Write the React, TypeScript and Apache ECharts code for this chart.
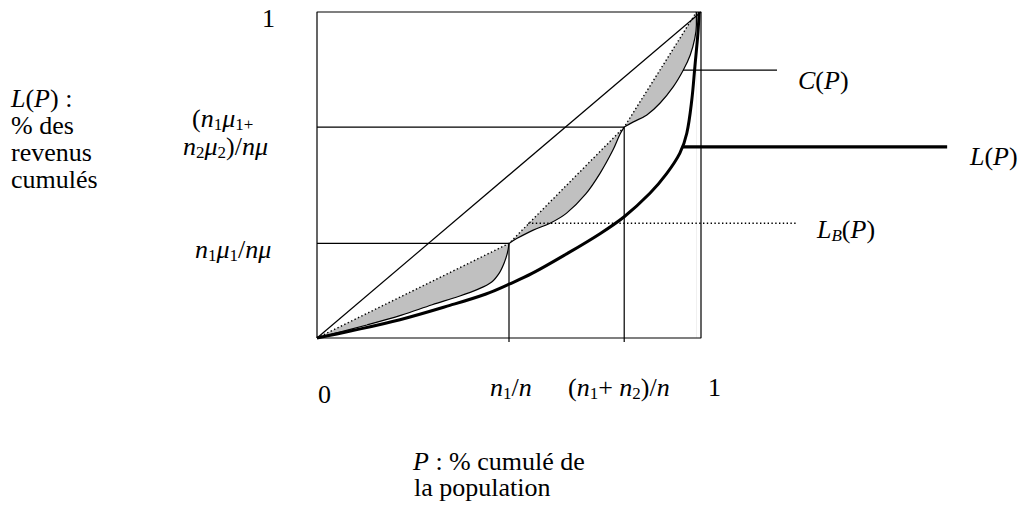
import React, { useEffect, useRef } from "react";
import * as echarts from "echarts";

// ---- data (x: cumulative population share, y: cumulative income share) ----
const chordPoints = [[0, 0], [0.5, 0.29], [0.8, 0.647], [0.988, 1]]; // L_B(P)
const cSeg1 = [[0, 0], [0.13, 0.04], [0.22, 0.07], [0.3, 0.102], [0.37, 0.128], [0.42, 0.15], [0.455, 0.172], [0.475, 0.2], [0.488, 0.232], [0.496, 0.262], [0.5, 0.29]];
const cSeg2 = [[0.5, 0.29], [0.52, 0.305], [0.563, 0.331], [0.607, 0.352], [0.65, 0.383], [0.7, 0.442], [0.737, 0.505], [0.77, 0.575], [0.789, 0.625], [0.8, 0.647]];
const cSeg3 = [[0.8, 0.647], [0.824, 0.663], [0.859, 0.684], [0.893, 0.72], [0.928, 0.771], [0.954, 0.822], [0.972, 0.868], [0.984, 0.92], [0.988, 0.96], [0.988, 1]];
const lorenz = [[0, 0], [0.09, 0.022], [0.216, 0.056], [0.346, 0.1], [0.44, 0.135], [0.5, 0.165], [0.56, 0.198], [0.65, 0.258], [0.737, 0.32], [0.8, 0.372], [0.867, 0.444], [0.911, 0.505], [0.945, 0.567], [0.963, 0.628], [0.976, 0.73], [0.984, 0.832], [0.992, 0.935], [0.995, 1]];
const diagonal = [[0, 0], [1, 1]];
const refLine1 = [[0, 0.29], [0.5, 0.29], [0.5, -0.012]];
const refLine2 = [[0, 0.647], [0.8, 0.647], [0.8, -0.012]];
const frame = [[0, 0], [1, 0], [1, 1], [0, 1], [0, 0]];
const leaderC = [[0.953, 0.822], [1.198, 0.822]];
const leaderL = [[0.952, 0.586], [1.641, 0.586]];
const leaderLB = [[0.55, 0.352], [1.25, 0.352]];

// ---- labels (rich text: r regular, i italic, s subscript, si italic subscript) ----
const yTickLabels = [
  "{r|1}",
  "{r|(}{i|n}{s|1}{i|μ}{s|1+}",
  "{i|n}{s|2}{i|μ}{s|2}{r|)/}{i|nμ}",
  "{i|n}{s|1}{i|μ}{s|1}{r|/}{i|nμ}",
];
const xTickLabels = ["{r|0}", "{i|n}{s|1}{r|/}{i|n}", "{r|(}{i|n}{s|1}{r|+ }{i|n}{s|2}{r|)/}{i|n}", "{r|1}"];
const yTitle = ["{i|L}{r|(}{i|P}{r|) :}", "{r|% des}", "{r|revenus}", "{r|cumulés}"];
const xTitle = ["{i|P}{r| : % cumulé de}", "{r|la population}"];
const curveLabels = ["{i|C}{r|(}{i|P}{r|)}", "{i|L}{r|(}{i|P}{r|)}", "{i|L}{si|B}{r|(}{i|P}{r|)}"];

const FONT = "'Liberation Serif', 'Times New Roman', 'DejaVu Serif', serif";
const RICH = {
  r: { fontSize: 26, fontFamily: FONT, lineHeight: 30, fill: "#000", color: "#000" },
  i: { fontStyle: "italic", fontSize: 26, fontFamily: FONT, lineHeight: 30, fill: "#000", color: "#000" },
  s: { fontSize: 17, fontFamily: FONT, lineHeight: 17, verticalAlign: "bottom", fill: "#000", color: "#000" },
  si: { fontStyle: "italic", fontSize: 17, fontFamily: FONT, lineHeight: 17, verticalAlign: "bottom", fill: "#000", color: "#000" },
};

function txt(x: number, baseline: number, text: string) {
  return {
    type: "text",
    x,
    y: baseline - 24,
    z: 100,
    style: {
      text,
      fontSize: 26,
      fontFamily: FONT,
      lineHeight: 30,
      fill: "#000",
      align: "left",
      verticalAlign: "top",
      rich: RICH,
    },
  };
}

function lineSeries(data: number[][], width: number, dash?: number[]) {
  return {
    type: "line",
    data,
    symbol: "none",
    showSymbol: false,
    clip: false,
    silent: true,
    lineStyle: dash ? { color: "#000", width, type: dash } : { color: "#000", width },
    z: 3,
  };
}

export default function App() {
  const ref = useRef<HTMLDivElement>(null);
  useEffect(() => {
    if (!ref.current) return;
    const chart = echarts.init(ref.current, null, { renderer: "svg" });
    const graphics: any[] = [
      txt(262, 27, yTickLabels[0]),
      txt(192, 127, yTickLabels[1]),
      txt(183, 155, yTickLabels[2]),
      txt(195, 258, yTickLabels[3]),
      txt(318, 403, xTickLabels[0]),
      txt(490, 396, xTickLabels[1]),
      txt(568, 396, xTickLabels[2]),
      txt(708, 396, xTickLabels[3]),
      txt(11, 107, yTitle[0]),
      txt(11, 134, yTitle[1]),
      txt(11, 161, yTitle[2]),
      txt(11, 188, yTitle[3]),
      txt(413, 470, xTitle[0]),
      txt(414, 496, xTitle[1]),
      txt(798, 89, curveLabels[0]),
      txt(970, 165, curveLabels[1]),
      txt(817, 238, curveLabels[2]),
    ];
    const white = { color: "#fff", opacity: 1, origin: 0 };
    const dots = [1.4, 2.4];
    chart.setOption({
      animation: false,
      tooltip: { show: false },
      textStyle: { fontFamily: FONT },
      // box spans x 0..1 (317..701px) and y 0..1 (338..12px); axes extended for leaders
      grid: { left: 317, top: 12, width: 384 * 1.7, height: 326 * 1.02, show: false },
      xAxis: { type: "value", min: 0, max: 1.7, show: false },
      yAxis: { type: "value", min: -0.02, max: 1, show: false },
      series: [
        { ...lineSeries(chordPoints, 0), areaStyle: { color: "#c0c0c0", opacity: 1, origin: 0 }, z: 1 },
        { ...lineSeries(cSeg1, 1.2), smooth: 0.35, areaStyle: white, z: 2 },
        { ...lineSeries(cSeg2, 1.2), smooth: 0.35, areaStyle: white, z: 2 },
        { ...lineSeries(cSeg3, 1.2), smooth: 0.35, areaStyle: white, z: 2 },
        lineSeries(diagonal, 1.2),
        lineSeries(refLine1, 1.2),
        lineSeries(refLine2, 1.2),
        lineSeries(chordPoints, 1.4, dots),
        { ...lineSeries(lorenz, 3), smooth: 0.35 },
        lineSeries(frame, 1.2),
        lineSeries(leaderC, 1.2),
        lineSeries(leaderL, 3.2),
        lineSeries(leaderLB, 1.4, dots),
      ],
      graphic: graphics,
    });
    return () => chart.dispose();
  }, []);
  return (
    <div
      ref={ref}
      style={{ position: "absolute", left: 0, top: 0, width: 1023, height: 509, background: "#fff" }}
    />
  );
}
